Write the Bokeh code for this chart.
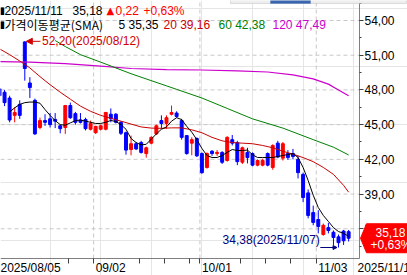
import pandas as pd
from bokeh.plotting import figure
from bokeh.models import (ColumnDataSource, Range1d, LinearAxis, FixedTicker, SingleIntervalTicker,
                          CustomJSTickFormatter, Label, Arrow, NormalHead, PolyAnnotation,
                          BoxAnnotation)
from bokeh.embed import file_html
from bokeh.resources import INLINE

# ---------------- data ----------------
dates = [d.strftime("%Y/%m/%d") for d in pd.bdate_range("2025-08-05", "2025-11-11")
         if d.strftime("%Y-%m-%d") != "2025-09-01"]

opens = [48.1, 47.8, 47.3, 45.8, 46.75, 52.15, 48.6, 47.1, 44.75, 45.35,
         45.5, 45.45, 44.9, 44.75, 46.65, 45.95, 45.4, 45.45, 44.6, 44.3,
         44.6, 44.6, 45.9, 45.9, 45.2, 44.3, 42.85, 43.35, 43.45, 42.5,
         43.4, 44.2, 45.35, 45.1, 45.9, 46.0, 45.35, 44.05, 43.4, 43.8,
         42.5, 41.3, 42.7, 42.5, 42.6, 41.9, 43.7, 43.45, 41.75, 42.6,
         42.5, 41.5, 41.5, 42.5, 41.3, 43.4, 42.1, 42.5, 42.5, 42.0,
         40.7, 39.1, 37.4, 36.8, 35.5, 36.1, 35.7, 35.3, 35.8, 35.75]
highs = [48.4, 48.0, 47.5, 46.5, 47.1, 52.2, 49.1, 47.25, 45.6, 45.9,
         46.0, 46.0, 45.0, 46.7, 46.9, 46.1, 46.0, 45.6, 45.35, 44.9,
         45.0, 46.1, 46.4, 46.0, 45.3, 44.4, 44.05, 43.5, 43.6, 43.1,
         44.0, 45.0, 45.8, 45.8, 46.65, 46.15, 45.5, 44.1, 43.9, 43.9,
         42.6, 42.6, 42.8, 42.8, 42.7, 44.0, 44.1, 43.6, 43.1, 43.0,
         42.6, 42.0, 42.05, 42.6, 43.3, 43.6, 43.5, 42.8, 42.9, 42.3,
         40.85, 39.4, 38.0, 37.6, 36.45, 36.5, 35.85, 35.5, 35.9, 35.9]
lows = [47.2, 46.6, 45.2, 45.2, 45.5, 48.8, 47.3, 44.1, 44.6, 44.9,
        44.75, 44.7, 44.25, 44.2, 45.5, 45.0, 45.1, 44.5, 44.5, 44.2,
        44.5, 44.5, 45.2, 45.1, 44.1, 42.4, 42.35, 42.8, 42.5, 42.15,
        43.3, 44.1, 44.65, 44.65, 45.8, 45.6, 43.7, 42.4, 42.35, 42.2,
        40.75, 41.2, 42.3, 42.3, 41.6, 41.8, 43.2, 41.5, 41.6, 41.65,
        41.4, 41.4, 41.4, 41.4, 41.1, 42.1, 41.9, 41.95, 42.0, 40.35,
        38.3, 36.9, 36.3, 35.6, 35.4, 35.6, 34.6, 34.38, 34.6, 34.9]
closes = [47.5, 46.9, 45.4, 46.05, 45.8, 49.85, 48.2, 44.2, 45.35, 45.2,
          45.0, 45.3, 44.65, 46.65, 45.6, 45.2, 45.2, 44.65, 45.1, 44.85,
          44.9, 46.05, 45.5, 45.2, 44.25, 42.8, 43.35, 42.9, 42.6, 43.0,
          43.9, 44.9, 45.1, 45.6, 46.05, 45.7, 43.9, 42.5, 43.7, 42.3,
          40.85, 42.5, 42.5, 42.6, 41.75, 43.9, 43.4, 41.8, 43.0, 42.15,
          41.5, 41.9, 41.9, 41.5, 43.2, 42.2, 43.35, 42.15, 42.25, 40.85,
          38.7, 37.15, 36.55, 36.2, 36.3, 35.85, 35.25, 34.8, 34.96, 35.18]

ma5_idx = list(range(2, 70))
ma5_val = [46.1, 46.45, 46.75, 46.9, 46.95, 46.95, 46.85, 46.3, 45.8, 45.35,
           45.0, 44.95, 45.15, 45.35, 45.4, 45.3, 45.2, 45.1, 45.1, 45.2,
           45.36, 45.27, 45.0, 44.6, 43.8, 43.45, 43.25, 43.3, 43.75, 44.2,
           44.6, 44.8, 45.3, 45.6, 45.44, 44.85, 44.35, 43.7, 42.94, 42.33,
           42.16, 42.16, 42.33, 42.6, 42.85, 42.76, 42.76, 42.8, 42.4, 42.16,
           42.16, 42.16, 42.16, 42.25, 42.33, 42.42, 42.5, 42.16, 41.3, 40.17,
           38.9, 37.84, 37.15, 36.63, 36.1, 35.76, 35.6, 35.35]
ma20_idx = [0, 2, 4, 6, 8, 10, 12, 14, 16, 18, 20, 22, 24, 26, 28, 30, 32, 34, 36,
            38, 40, 42, 44, 46, 48, 50, 52, 54, 56, 58, 60, 62, 64, 66, 68, 69]
ma20_val = [51.55, 51.05, 50.5, 49.9, 49.15, 48.45, 47.8, 47.2, 46.6, 46.15, 45.8,
            45.55, 45.3, 45.05, 44.8, 44.7, 44.68, 44.72, 44.72, 44.55, 44.3, 43.9,
            43.6, 43.45, 43.4, 43.35, 43.2, 43.0, 42.7, 42.45, 42.15, 41.8, 41.3,
            40.7, 39.75, 39.16]
ma60_idx = [11, 13, 16, 20, 26, 33, 35, 40, 45, 50, 56, 62, 66, 69]
ma60_val = [52.27, 51.75, 51.05, 50.4, 49.4, 48.35, 48.05, 47.3, 46.4, 45.5,
            44.7, 43.7, 43.05, 42.38]
ma120_idx = [0, 6, 13, 20, 26, 33, 40, 47, 53, 58, 62, 65, 67, 69]
ma120_val = [50.45, 50.4, 50.27, 50.05, 49.85, 49.75, 49.72, 49.65, 49.55, 49.3,
             48.95, 48.5, 48.0, 47.49]

y_ticks = [36, 39, 42, 45, 48, 51, 54]
date_labels = ["2025/08/05", "09/02", "10/01", "11/03", "2025/11/11"]
label_dates = ["2025/08/05", "2025/09/02", "2025/10/01", "2025/11/03", "2025/11/11"]

RED, BLUE = "#FF0000", "#0000FF"
C5, C20, C60, C120 = "#000000", "#C80000", "#008000", "#CC00CC"
FONT, KFONT = "Liberation Sans", "Noto Sans CJK KR"

# ---------------- pixel helpers (layout only) ----------------
PXU, X0 = 5.06, -1.0      # px per bar, px of bar 0
PYU, Y54 = 11.57, 20.0    # px per price unit, px of 54
def dx(px): return (px - X0) / PXU
def dy(py): return 54 - (py - Y54) / PYU
RIGHT_PX, BOTTOM_PX = 359, 258   # plot-area edges

p = figure(width=407, height=275, x_range=Range1d(dx(0), dx(407)), y_range=Range1d(dy(275), dy(0)),
           output_backend="svg", toolbar_location=None, x_axis_location=None, y_axis_location=None,
           min_border_left=0, min_border_right=0, min_border_top=0, min_border_bottom=0,
           background_fill_color="white", border_fill_color="white", outline_line_color=None)

# grid (dashed), limited to the plot area
lab_idx = [dates.index(d) for d in label_dates]
grid_x = [i - 0.4 for i in lab_idx[1:4]]
p.segment(x0=[dx(0)] * len(y_ticks), y0=y_ticks, x1=[dx(RIGHT_PX)] * len(y_ticks), y1=y_ticks,
          line_color="#C8C8C8", line_dash="4 3", line_width=1)
p.segment(x0=grid_x, y0=[dy(BOTTOM_PX)] * 3, x1=grid_x, y1=[dy(0)] * 3,
          line_color="#C8C8C8", line_dash="4 3", line_width=1)

# right price axis
yaxis = LinearAxis(fixed_location=dx(RIGHT_PX), bounds=(dy(BOTTOM_PX), dy(0)),
                   ticker=SingleIntervalTicker(interval=3, num_minor_ticks=2),
                   formatter=CustomJSTickFormatter(code="return tick.toFixed(2).replace('.', ',');"),
                   axis_line_color="#808080", major_tick_line_color="#404040", minor_tick_line_color="#404040",
                   major_tick_out=4, major_tick_in=0, minor_tick_out=2, minor_tick_in=0,
                   major_label_standoff=1, major_label_text_font=FONT,
                   major_label_text_font_size="12px", major_label_text_color="black")
p.add_layout(yaxis, "right")

# bottom date axis (ticks; weekly + labelled dates)
weekly, prev_week = [], None
for i, d in enumerate(dates):
    wk = pd.Timestamp(d.replace("/", "-")).isocalendar()[1]
    if wk != prev_week:
        weekly.append(i)
    prev_week = wk
hidden = set()
for li, lab in zip(lab_idx, date_labels):
    span = len(lab) * 6.2 / PXU
    for w in weekly:
        if li < w <= li + span - 1 or (li == 0 and w <= span):
            hidden.add(w)
ticks = sorted(set([w - 0.4 for w in weekly if w not in hidden] + grid_x))
xaxis = LinearAxis(fixed_location=dy(BOTTOM_PX), bounds=(dx(0), dx(RIGHT_PX)),
                   ticker=FixedTicker(ticks=ticks), major_label_text_color=None,
                   major_tick_out=5, major_tick_in=0, minor_tick_out=0, minor_tick_in=0,
                   axis_line_color="#808080", major_tick_line_color="#404040")
p.add_layout(xaxis, "below")

# candles
idx = list(range(len(dates)))
cols = [RED if c >= o else BLUE for o, c in zip(opens, closes)]
src = ColumnDataSource(dict(x=idx, high=highs, low=lows,
                            top=[max(o, c) for o, c in zip(opens, closes)],
                            bottom=[min(o, c) for o, c in zip(opens, closes)], color=cols))
p.segment(x0="x", y0="low", x1="x", y1="high", line_color="color", line_width=1, source=src)
p.vbar(x="x", width=0.58, top="top", bottom="bottom", fill_color="color", line_color="color",
       line_width=1, source=src)

# moving averages
p.line(ma120_idx, ma120_val, line_color=C120, line_width=1.2)
p.line(ma60_idx, ma60_val, line_color=C60, line_width=1)
p.line(ma20_idx, ma20_val, line_color=C20, line_width=1)
p.line(ma5_idx, ma5_val, line_color=C5, line_width=1)

def fmt(v): return f"{v:.2f}".replace(".", ",")

# high / low markers
hi_i = max(idx, key=lambda i: highs[i]); hi = highs[hi_i]
lo_i = min(idx, key=lambda i: lows[i]); lo = lows[lo_i]
p.add_layout(Arrow(end=NormalHead(size=6, fill_color="#D00000", line_color="#D00000"),
                   x_start=hi_i + 3.1, y_start=hi, x_end=hi_i + 0.3, y_end=hi,
                   line_color="#D00000", line_width=1))
p.add_layout(Label(x=hi_i + 3.4, y=hi, text=f"{fmt(hi)}({dates[hi_i]})", text_font=FONT,
                   text_font_size="12px", text_color="#D00000", text_baseline="middle"))
p.add_layout(Arrow(end=NormalHead(size=4, fill_color="#000080", line_color="#000080"),
                   x_start=lo_i - 3.6, y_start=lo, x_end=lo_i - 0.3, y_end=lo,
                   line_color="#000080", line_width=1))
p.add_layout(Label(x=lo_i - 3.7, y=lo + 0.05, text=f"{fmt(lo)}({dates[lo_i]})", text_font=FONT,
                   text_font_size="12px", text_color="#000080", text_align="right",
                   text_baseline="bottom"))

# date labels under the axis
for li, lab in zip(lab_idx[:4], date_labels[:4]):
    p.add_layout(Label(x=max(li, dx(0)), y=dy(267.5), text=lab, text_font=FONT, text_font_size="12px",
                       text_color="black", text_baseline="middle"))
p.add_layout(Label(x=dx(357), y=dy(267.5), text=date_labels[4], text_font=FONT, text_font_size="12px",
                   text_color="black", text_baseline="middle"))

# current price box on the price axis
last, prev = closes[-1], closes[-2]
chg = last - prev
pct = chg / prev * 100
h = 14.5 / PYU
p.add_layout(PolyAnnotation(xs=[dx(360), dx(366), dx(412), dx(412), dx(366)],
                            ys=[last, last + h, last + h, last - h, last - h],
                            fill_color=RED, fill_alpha=1, line_color=RED, line_alpha=1))
p.add_layout(Label(x=dx(405), y=last + 6 / PYU, text=fmt(last), text_font=FONT, text_font_size="12px",
                   text_color="white", text_align="right", text_baseline="middle"))
p.add_layout(Label(x=dx(370), y=last - 7 / PYU, text=("+" if pct >= 0 else "") + fmt(pct) + "%",
                   text_font=FONT, text_font_size="12px", text_color="white", text_baseline="middle"))

# header
def hdr(px, py, text, color="black", font=FONT, size="12px"):
    p.add_layout(Label(x=dx(px), y=dy(py), text=text, text_font=font, text_font_size=size,
                       text_color=color, text_baseline="middle"))

hdr(-1, 10, "▮", font="DejaVu Sans", size="10px")
hdr(4, 10, dates[-1])
hdr(72, 10, fmt(last))
hdr(106, 10, "▲", color=RED, font="DejaVu Sans", size="10px")
hdr(115, 10, fmt(abs(chg)), color=RED)
hdr(143, 10, ("+" if pct >= 0 else "") + fmt(pct) + "%", color=RED)
hdr(-1, 24, "▮", font="DejaVu Sans", size="10px")
hdr(4, 24, "가격이동평균(SMA)", font=KFONT, size="12px")
hdr(118, 24, "5 " + fmt(ma5_val[-1]))
hdr(163, 24, "20 " + fmt(ma20_val[-1]), color=C20)
hdr(218, 24, "60 " + fmt(ma60_val[-1]), color=C60)
hdr(272, 24, "120 " + fmt(ma120_val[-1]), color=C120)

# window tab strip at top right
p.add_layout(BoxAnnotation(left=dx(230), right=dx(406), top=dy(-1), bottom=dy(3),
                           fill_color="#EEEEEE", fill_alpha=1, line_color="#9A9A9A"))
p.add_layout(BoxAnnotation(left=dx(270), right=dx(310), top=dy(-1), bottom=dy(3),
                           fill_color="#3A66B0", fill_alpha=1, line_color="#3A66B0"))

open("out.html", "w").write(file_html(p, INLINE))
